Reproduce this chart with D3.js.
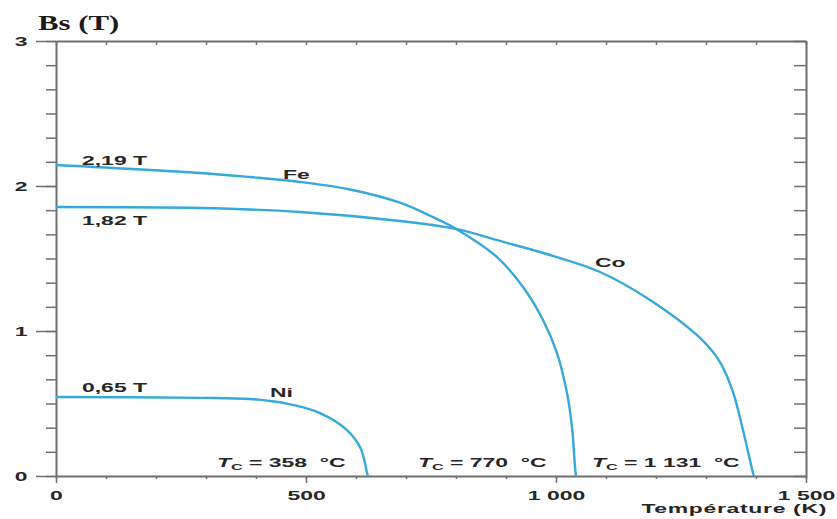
<!DOCTYPE html>
<html>
<head>
<meta charset="utf-8">
<script src="https://cdn.jsdelivr.net/npm/d3@7"></script>
<style>
  body { margin: 0; background: #fff; }
  svg { display: block; }
</style>
</head>
<body>
<div id="chart"></div>
<script>
// data: [température (K), Bs (T)]
const feCurve = [[0,2.145],[288,2.09],[388,2.062],[488,2.028],[588,1.976],[688,1.885],[748,1.795],[802,1.700],
                 [882,1.510],[934,1.303],[974,1.076],[1002,0.848],[1022,0.572],[1032,0.338],[1038,0.062],[1040,0]];
const coCurve = [[0,1.855],[288,1.848],[488,1.821],[688,1.759],[802,1.703],[888,1.621],[988,1.524],[1088,1.407],
                 [1188,1.214],[1288,0.952],[1328,0.786],[1354,0.579],[1374,0.317],[1394,0.021],[1396,0]];
const niCurve = [[0,0.545],[288,0.539],[388,0.531],[462,0.499],[528,0.434],[582,0.317],[608,0.2],[618,0.09],
                 [622,0.021],[624,0]];

const xTicks = [0, 500, 1000, 1500];
const yTicks = [0, 1, 2, 3];
const satLabels = ['2,19 T', '1,82 T', '0,65 T'];
const metalLabels = ['Fe', 'Co', 'Ni'];
const curieLabels = ['358\u00a0 °C', '770\u00a0 °C', '1 131\u00a0 °C'];

// config
const W = 837, H = 519;
const SX = 1.7;              // the scan is stretched horizontally
const axisCol = '#6f6f6f', curveCol = '#36a9dc', textCol = '#262626';
const FONT = '"Liberation Sans", Arial, sans-serif';

const x = d3.scaleLinear().domain([0, 1500]).range([56, 806]);
const y = d3.scaleLinear().domain([0, 3]).range([476, 41]);

const fr = d3.formatLocale({decimal: ',', thousands: ' ', grouping: [3], currency: ['', '']}).format(',');

const svg = d3.select('#chart').append('svg')
  .attr('width', W).attr('height', H);

// stretched text helper
function label(sel, px, py, anchor) {
  return sel.append('g').attr('transform', `translate(${px},${py})`)
    .append('text')
      .attr('transform', `scale(${SX},1)`)
      .attr('text-anchor', anchor || 'start')
      .style('font-family', FONT).style('font-weight', 'bold')
      .style('font-size', '13.5px').attr('fill', textCol);
}

function styleAxis(g) {
  g.selectAll('path, line').attr('stroke', axisCol);
  g.select('path.domain').attr('stroke-width', 2);
  g.selectAll('line').attr('stroke-width', 1.5);
}

// minor ticks
const minorX = d3.range(0, 1501, 100);
const minorY = d3.range(0, 19).map(i => i / 6);

// bottom
svg.append('g').attr('transform', `translate(0,${y(0)})`)
  .call(d3.axisBottom(x).tickValues(minorX).tickSize(3).tickSizeOuter(0).tickFormat(''))
  .call(styleAxis);
const xAx = svg.append('g').attr('transform', `translate(0,${y(0)})`)
  .call(d3.axisBottom(x).tickValues(xTicks).tickSize(7).tickSizeOuter(0).tickPadding(7).tickFormat(fr))
  .call(styleAxis);
xAx.select('path.domain').remove();
xAx.selectAll('text')
  .attr('transform', `scale(${SX},1)`)
  .style('font-family', FONT).style('font-weight', 'bold').style('font-size', '13.5px')
  .attr('fill', textCol);

// top (inner ticks)
svg.append('g').attr('transform', `translate(0,${y(3)})`)
  .call(d3.axisBottom(x).tickValues(minorX).tickSize(4).tickSizeOuter(0).tickFormat(''))
  .call(styleAxis);

// left
svg.append('g').attr('transform', `translate(${x(0)},0)`)
  .call(d3.axisLeft(y).tickValues(minorY).tickSize(10).tickSizeOuter(0).tickFormat(''))
  .call(styleAxis);
const yAx = svg.append('g').attr('transform', `translate(${x(0)},0)`)
  .call(d3.axisLeft(y).tickValues(yTicks).tickSize(20).tickSizeOuter(0).tickFormat(d3.format('d')))
  .call(styleAxis);
yAx.select('path.domain').remove();
yAx.selectAll('text')
  .attr('x', -35 / SX).attr('text-anchor', 'middle')
  .attr('transform', `scale(${SX},1)`)
  .style('font-family', FONT).style('font-weight', 'bold').style('font-size', '13.5px')
  .attr('fill', textCol);

// right (inner ticks)
svg.append('g').attr('transform', `translate(${x(1500)},0)`)
  .call(d3.axisLeft(y).tickValues(minorY).tickSize(12).tickSizeOuter(0).tickFormat(''))
  .call(styleAxis);

// curves
const line = d3.line().x(d => x(d[0])).y(d => y(d[1])).curve(d3.curveCatmullRom.alpha(0.5));
[feCurve, coCurve, niCurve].forEach(c => {
  svg.append('path').datum(c)
    .attr('d', line)
    .attr('fill', 'none')
    .attr('stroke', curveCol)
    .attr('stroke-width', 2.4);
});

// title
svg.append('g').attr('transform', 'translate(38,30)')
  .append('text')
    .attr('transform', 'scale(1.4,1)')
    .style('font-family', '"Liberation Serif", "Times New Roman", serif')
    .style('font-weight', 'bold').style('font-size', '22px')
    .attr('fill', '#1a1a1a')
    .text('Bs (T)');

// saturation values at 0 K
const satPos = [[82, 165], [82, 225], [82, 392]];
satLabels.forEach((s, i) => label(svg, satPos[i][0], satPos[i][1]).text(s));

// metal names
const metalPos = [[283, 179], [595, 267], [270, 397]];
metalLabels.forEach((s, i) => label(svg, metalPos[i][0], metalPos[i][1]).text(s));

// Curie temperatures
const curiePos = [217, 418, 592];
curieLabels.forEach((s, i) => {
  const t = label(svg, curiePos[i], 467);
  t.append('tspan').style('font-style', 'italic').text('T');
  t.append('tspan').style('font-size', '9.5px').attr('dy', 3).text('C');
  t.append('tspan').attr('dy', -3).text(' = ' + s);
});

// axis title
label(svg, 827, 513, 'end').style('letter-spacing', '0.4px').text('Température (K)');
</script>
</body>
</html>
